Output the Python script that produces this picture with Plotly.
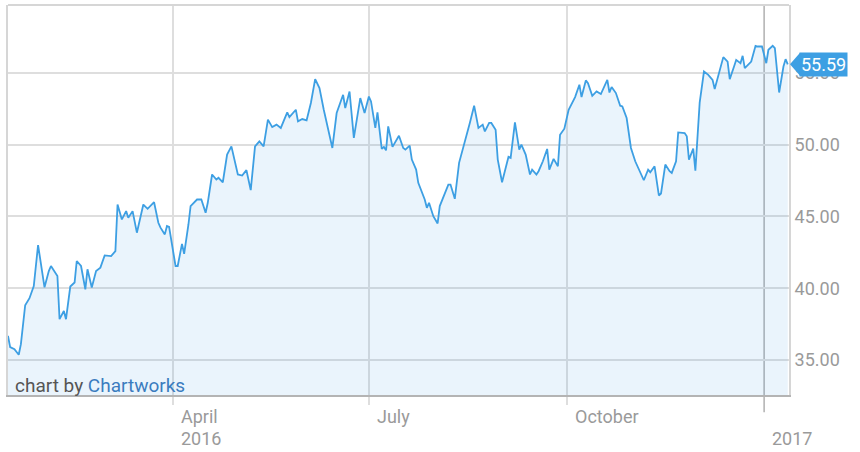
import plotly.graph_objects as go

dates = [
    "2016-01-15", "2016-01-16", "2016-01-18", "2016-01-20", "2016-01-21", "2016-01-23", "2016-01-25", "2016-01-27",
    "2016-01-29", "2016-02-01", "2016-02-03", "2016-02-04", "2016-02-07", "2016-02-08", "2016-02-10", "2016-02-11",
    "2016-02-13", "2016-02-15", "2016-02-16", "2016-02-18", "2016-02-20", "2016-02-21", "2016-02-23", "2016-02-25",
    "2016-02-27", "2016-02-29", "2016-03-03", "2016-03-05", "2016-03-06", "2016-03-08", "2016-03-10", "2016-03-11",
    "2016-03-13", "2016-03-15", "2016-03-18", "2016-03-20", "2016-03-23", "2016-03-25", "2016-03-26", "2016-03-28",
    "2016-03-29", "2016-03-30", "2016-04-02", "2016-04-03", "2016-04-05", "2016-04-06", "2016-04-08", "2016-04-09",
    "2016-04-12", "2016-04-14", "2016-04-16", "2016-04-17", "2016-04-19", "2016-04-21", "2016-04-22", "2016-04-24",
    "2016-04-26", "2016-04-28", "2016-05-01", "2016-05-03", "2016-05-05", "2016-05-07", "2016-05-09", "2016-05-11",
    "2016-05-13", "2016-05-15", "2016-05-17", "2016-05-19", "2016-05-21", "2016-05-24", "2016-05-25", "2016-05-28",
    "2016-05-29", "2016-05-31", "2016-06-02", "2016-06-04", "2016-06-06", "2016-06-08", "2016-06-10", "2016-06-12",
    "2016-06-14", "2016-06-16", "2016-06-19", "2016-06-20", "2016-06-22", "2016-06-24", "2016-06-27", "2016-06-29",
    "2016-07-01", "2016-07-02", "2016-07-04", "2016-07-05", "2016-07-07", "2016-07-08", "2016-07-09", "2016-07-10",
    "2016-07-12", "2016-07-15", "2016-07-17", "2016-07-18", "2016-07-20", "2016-07-21", "2016-07-23", "2016-07-24",
    "2016-07-25", "2016-07-27", "2016-07-28", "2016-07-29", "2016-07-31", "2016-08-02", "2016-08-03", "2016-08-05",
    "2016-08-07", "2016-08-08", "2016-08-10", "2016-08-12", "2016-08-15", "2016-08-17", "2016-08-19", "2016-08-20",
    "2016-08-21", "2016-08-23", "2016-08-24", "2016-08-26", "2016-08-27", "2016-08-29", "2016-08-30", "2016-09-01",
    "2016-09-03", "2016-09-04", "2016-09-05", "2016-09-07", "2016-09-09", "2016-09-10", "2016-09-12", "2016-09-14",
    "2016-09-15", "2016-09-17", "2016-09-18", "2016-09-20", "2016-09-22", "2016-09-23", "2016-09-25", "2016-09-27",
    "2016-09-28", "2016-09-30", "2016-10-02", "2016-10-04", "2016-10-05", "2016-10-07", "2016-10-08", "2016-10-10",
    "2016-10-11", "2016-10-13", "2016-10-15", "2016-10-17", "2016-10-20", "2016-10-21", "2016-10-22", "2016-10-24",
    "2016-10-26", "2016-10-27", "2016-10-29", "2016-10-31", "2016-11-02", "2016-11-06", "2016-11-08", "2016-11-09",
    "2016-11-11", "2016-11-13", "2016-11-14", "2016-11-16", "2016-11-18", "2016-11-19", "2016-11-21", "2016-11-22",
    "2016-11-25", "2016-11-26", "2016-11-27", "2016-11-29", "2016-11-30", "2016-12-02", "2016-12-04", "2016-12-06",
    "2016-12-08", "2016-12-09", "2016-12-11", "2016-12-13", "2016-12-15", "2016-12-16", "2016-12-18", "2016-12-19",
    "2016-12-21", "2016-12-22", "2016-12-23", "2016-12-25", "2016-12-26", "2016-12-28", "2016-12-29", "2016-12-31",
    "2017-01-02", "2017-01-03", "2017-01-05", "2017-01-06", "2017-01-08", "2017-01-10", "2017-01-11", "2017-01-12",
]

prices = [
    36.69, 35.90, 35.76, 35.37, 36.11, 38.82, 39.31, 40.16,
    43.01, 40.07, 41.20, 41.55, 40.85, 37.85, 38.42, 37.85,
    40.12, 40.40, 41.90, 41.55, 39.93, 41.32, 40.05, 41.20,
    41.44, 42.29, 42.24, 42.59, 45.83, 44.79, 45.37, 44.91,
    45.37, 43.87, 45.83, 45.53, 45.99, 44.56, 44.22, 43.75,
    44.33, 44.27, 41.55, 41.55, 43.09, 42.40, 44.44, 45.72,
    46.18, 46.18, 45.26, 45.95, 47.92, 47.57, 47.69, 47.38,
    49.31, 49.88, 47.92, 47.85, 48.22, 46.83, 49.88, 50.23,
    49.88, 51.74, 51.22, 51.39, 51.16, 52.24, 51.92, 52.43,
    51.62, 51.78, 51.69, 52.90, 54.56, 53.94, 52.43, 51.16,
    49.77, 52.20, 53.47, 52.55, 53.70, 50.47, 53.24, 52.20,
    53.35, 53.01, 51.16, 52.24, 49.70, 49.84, 49.60, 51.27,
    49.84, 50.62, 49.77, 49.65, 49.93, 48.96, 48.26, 47.34,
    46.98, 46.18, 45.60, 45.95, 45.02, 44.51, 45.72, 46.41,
    47.22, 47.22, 46.23, 48.73, 50.35, 51.51, 52.71, 51.97,
    51.16, 51.39, 50.92, 51.51, 51.51, 51.04, 48.96, 47.38,
    48.61, 49.15, 49.08, 51.55, 49.65, 50.00, 49.31, 47.92,
    48.26, 47.92, 48.15, 48.84, 49.70, 48.26, 49.01, 48.49,
    50.69, 51.11, 52.43, 53.01, 53.31, 54.17, 53.31, 54.47,
    54.28, 53.40, 53.70, 53.52, 54.51, 53.63, 54.01, 53.59,
    52.71, 52.66, 51.85, 49.77, 48.84, 47.52, 48.26, 48.08,
    48.49, 46.46, 46.60, 48.61, 48.15, 48.03, 48.84, 50.85,
    50.81, 50.58, 48.96, 49.72, 48.19, 52.92, 55.09, 54.86,
    54.51, 53.87, 54.98, 56.09, 55.78, 54.56, 55.44, 55.90,
    55.67, 56.18, 55.33, 55.67, 55.78, 56.88, 56.83, 56.83,
    55.67, 56.60, 56.88, 56.72, 53.63, 55.44, 55.95, 55.59,
]

tick_dates = ["2016-04-01", "2016-07-01", "2016-10-01", "2017-01-01"]
month_labels = ["April", "July", "October", ""]
year_labels = ["2016", "", "", "2017"]
y_ticks = [35, 40, 45, 50, 55]

x_range = ["2016-01-15", "2017-01-12 14:00"]
y_range = [32.57, 59.72]

LINE = "#3d9fe3"
FONT = "Roboto"
GRID = "#dedede"

fig = go.Figure()
fig.add_trace(go.Scatter(
    x=dates, y=prices, mode="lines",
    line=dict(color=LINE, width=1.8),
    fill="tozeroy", fillcolor="rgba(61,159,227,0.11)",
    hoverinfo="skip", showlegend=False,
))

fig.update_layout(
    width=860, height=452,
    margin=dict(l=8, r=71, t=5, b=57),
    paper_bgcolor="white", plot_bgcolor="white",
    font=dict(family=FONT, size=18, color="#9a9a9a"),
    showlegend=False,
)

fig.update_xaxes(
    type="date", range=x_range,
    tickvals=tick_dates[:3], showticklabels=False,
    ticks="outside", ticklen=8, tickwidth=1.5, tickcolor=GRID,
    showgrid=True, gridcolor=GRID, gridwidth=1.5,
    showline=True, linecolor="#b4b4b4", linewidth=2,
    zeroline=False, fixedrange=True,
)
fig.update_yaxes(
    side="right", range=y_range,
    tickvals=y_ticks, tickformat=".2f",
    ticks="", ticklabelstandoff=0,
    tickfont=dict(family=FONT, size=18, color="#9a9a9a"),
    showgrid=True, gridcolor=GRID, gridwidth=1.5,
    showline=True, mirror=True, linecolor="#d6d6d6", linewidth=2,
    zeroline=False, fixedrange=True,
)

# top border
fig.add_shape(type="line", xref="paper", yref="paper", x0=0, x1=1, y0=1, y1=1,
              line=dict(color="#d6d6d6", width=2))
# year boundary line (darker, longer tick)
fig.add_shape(type="line", xref="x", yref="paper", x0=tick_dates[3], x1=tick_dates[3],
              y0=-0.044, y1=1, line=dict(color="#b0b0b0", width=1.5), layer="between")

# x-axis labels
for d, m, yl in zip(tick_dates, month_labels, year_labels):
    if m:
        fig.add_annotation(x=d, xref="x", y=-0.0564, yref="paper", text=m,
                           showarrow=False, xanchor="left", yanchor="middle", xshift=6,
                           font=dict(family=FONT, size=18, color="#9a9a9a"))
    if yl:
        fig.add_annotation(x=d, xref="x", y=-0.1128, yref="paper", text=yl,
                           showarrow=False, xanchor="left", yanchor="middle", xshift=6,
                           font=dict(family=FONT, size=18, color="#9a9a9a"))

# last price callout
last = prices[-1]
fig.add_shape(type="path", xref="paper", yref="y", xsizemode="pixel", ysizemode="pixel",
              xanchor=1, yanchor=last, path="M 1,0 L 11,11.5 L 11,-11.5 Z",
              fillcolor=LINE, line=dict(width=0), layer="above")
fig.add_annotation(x=1, xref="paper", y=last, yref="y", text=f"{last:.2f}",
                   showarrow=False, xanchor="left", yanchor="middle", xshift=10,
                   bgcolor=LINE, borderpad=1,
                   font=dict(family=FONT, size=18, color="white"))

# credit
fig.add_annotation(x=0.006, xref="paper", y=0.0256, yref="paper",
                   text="chart by <span style='color:#3b7cbf'>Chartworks</span>",
                   showarrow=False, xanchor="left", yanchor="middle",
                   font=dict(family=FONT, size=19, color="#555555"))

fig.write_html("out.html", config={"displayModeBar": False},
               post_script="document.body.style.margin='0';")
